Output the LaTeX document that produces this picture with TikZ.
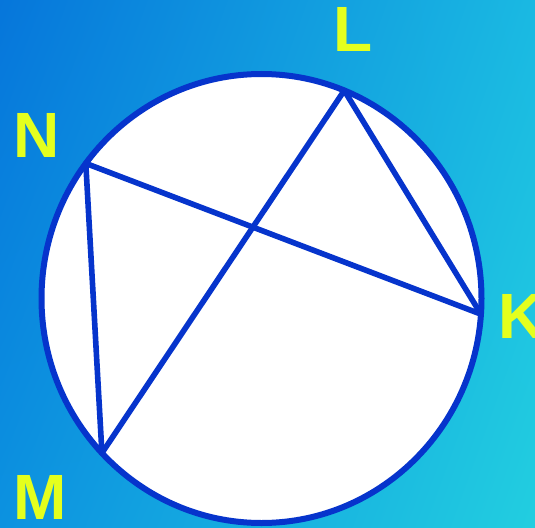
\documentclass[tikz,border=0pt]{standalone}
\usepackage{fontspec}
\setmainfont{Liberation Sans}
\usetikzlibrary{calc,shadings}
\definecolor{chordblue}{HTML}{0634CC}
\definecolor{labelyellow}{HTML}{E4FF1E}
\definecolor{bgUL}{HTML}{0676DB}
\definecolor{bgUR}{HTML}{1AB9E2}
\definecolor{bgLL}{HTML}{0C92E0}
\definecolor{bgLR}{HTML}{22CEE0}
\tikzset{
  chord/.style={draw=chordblue, line width=5.6pt, line cap=round, line join=round},
  rim/.style={draw=chordblue, fill=white, line width=6pt},
  ptlabel/.style={text=labelyellow, inner sep=0pt, anchor=center,
    font=\fontsize{64}{64}\selectfont\bfseries}
}
\begin{document}
\begin{tikzpicture}[x=1pt,y=-1pt]
\useasboundingbox (0,0) rectangle (535,527);
\shade[upper left=bgUL, upper right=bgUR, lower left=bgLL, lower right=bgLR] (0,0) rectangle (535,527);
\coordinate (O) at (261.5,298.5);
\draw[rim] (O) ellipse [x radius=220pt, y radius=224.5pt];
\coordinate (L) at ([shift={(67.9:220pt and 224.5pt)}]O);
\coordinate (K) at ([shift={(-4:220pt and 224.5pt)}]O);
\coordinate (N) at ([shift={(143:220pt and 224.5pt)}]O);
\coordinate (M) at ([shift={(223.5:220pt and 224.5pt)}]O);
\draw[chord] (L) -- (M);
\draw[chord] (N) -- (K);
\draw[chord] (L) -- (K);
\draw[chord] (N) -- (M);
\node[ptlabel] (tL) at (353,29.5) {L};
\node[ptlabel] (tN) at (36.5,135) {N};
\node[ptlabel] (tM) at (40.5,497) {M};
\node[ptlabel] (tK) at (522,316.5) {K};
\end{tikzpicture}
\end{document}
